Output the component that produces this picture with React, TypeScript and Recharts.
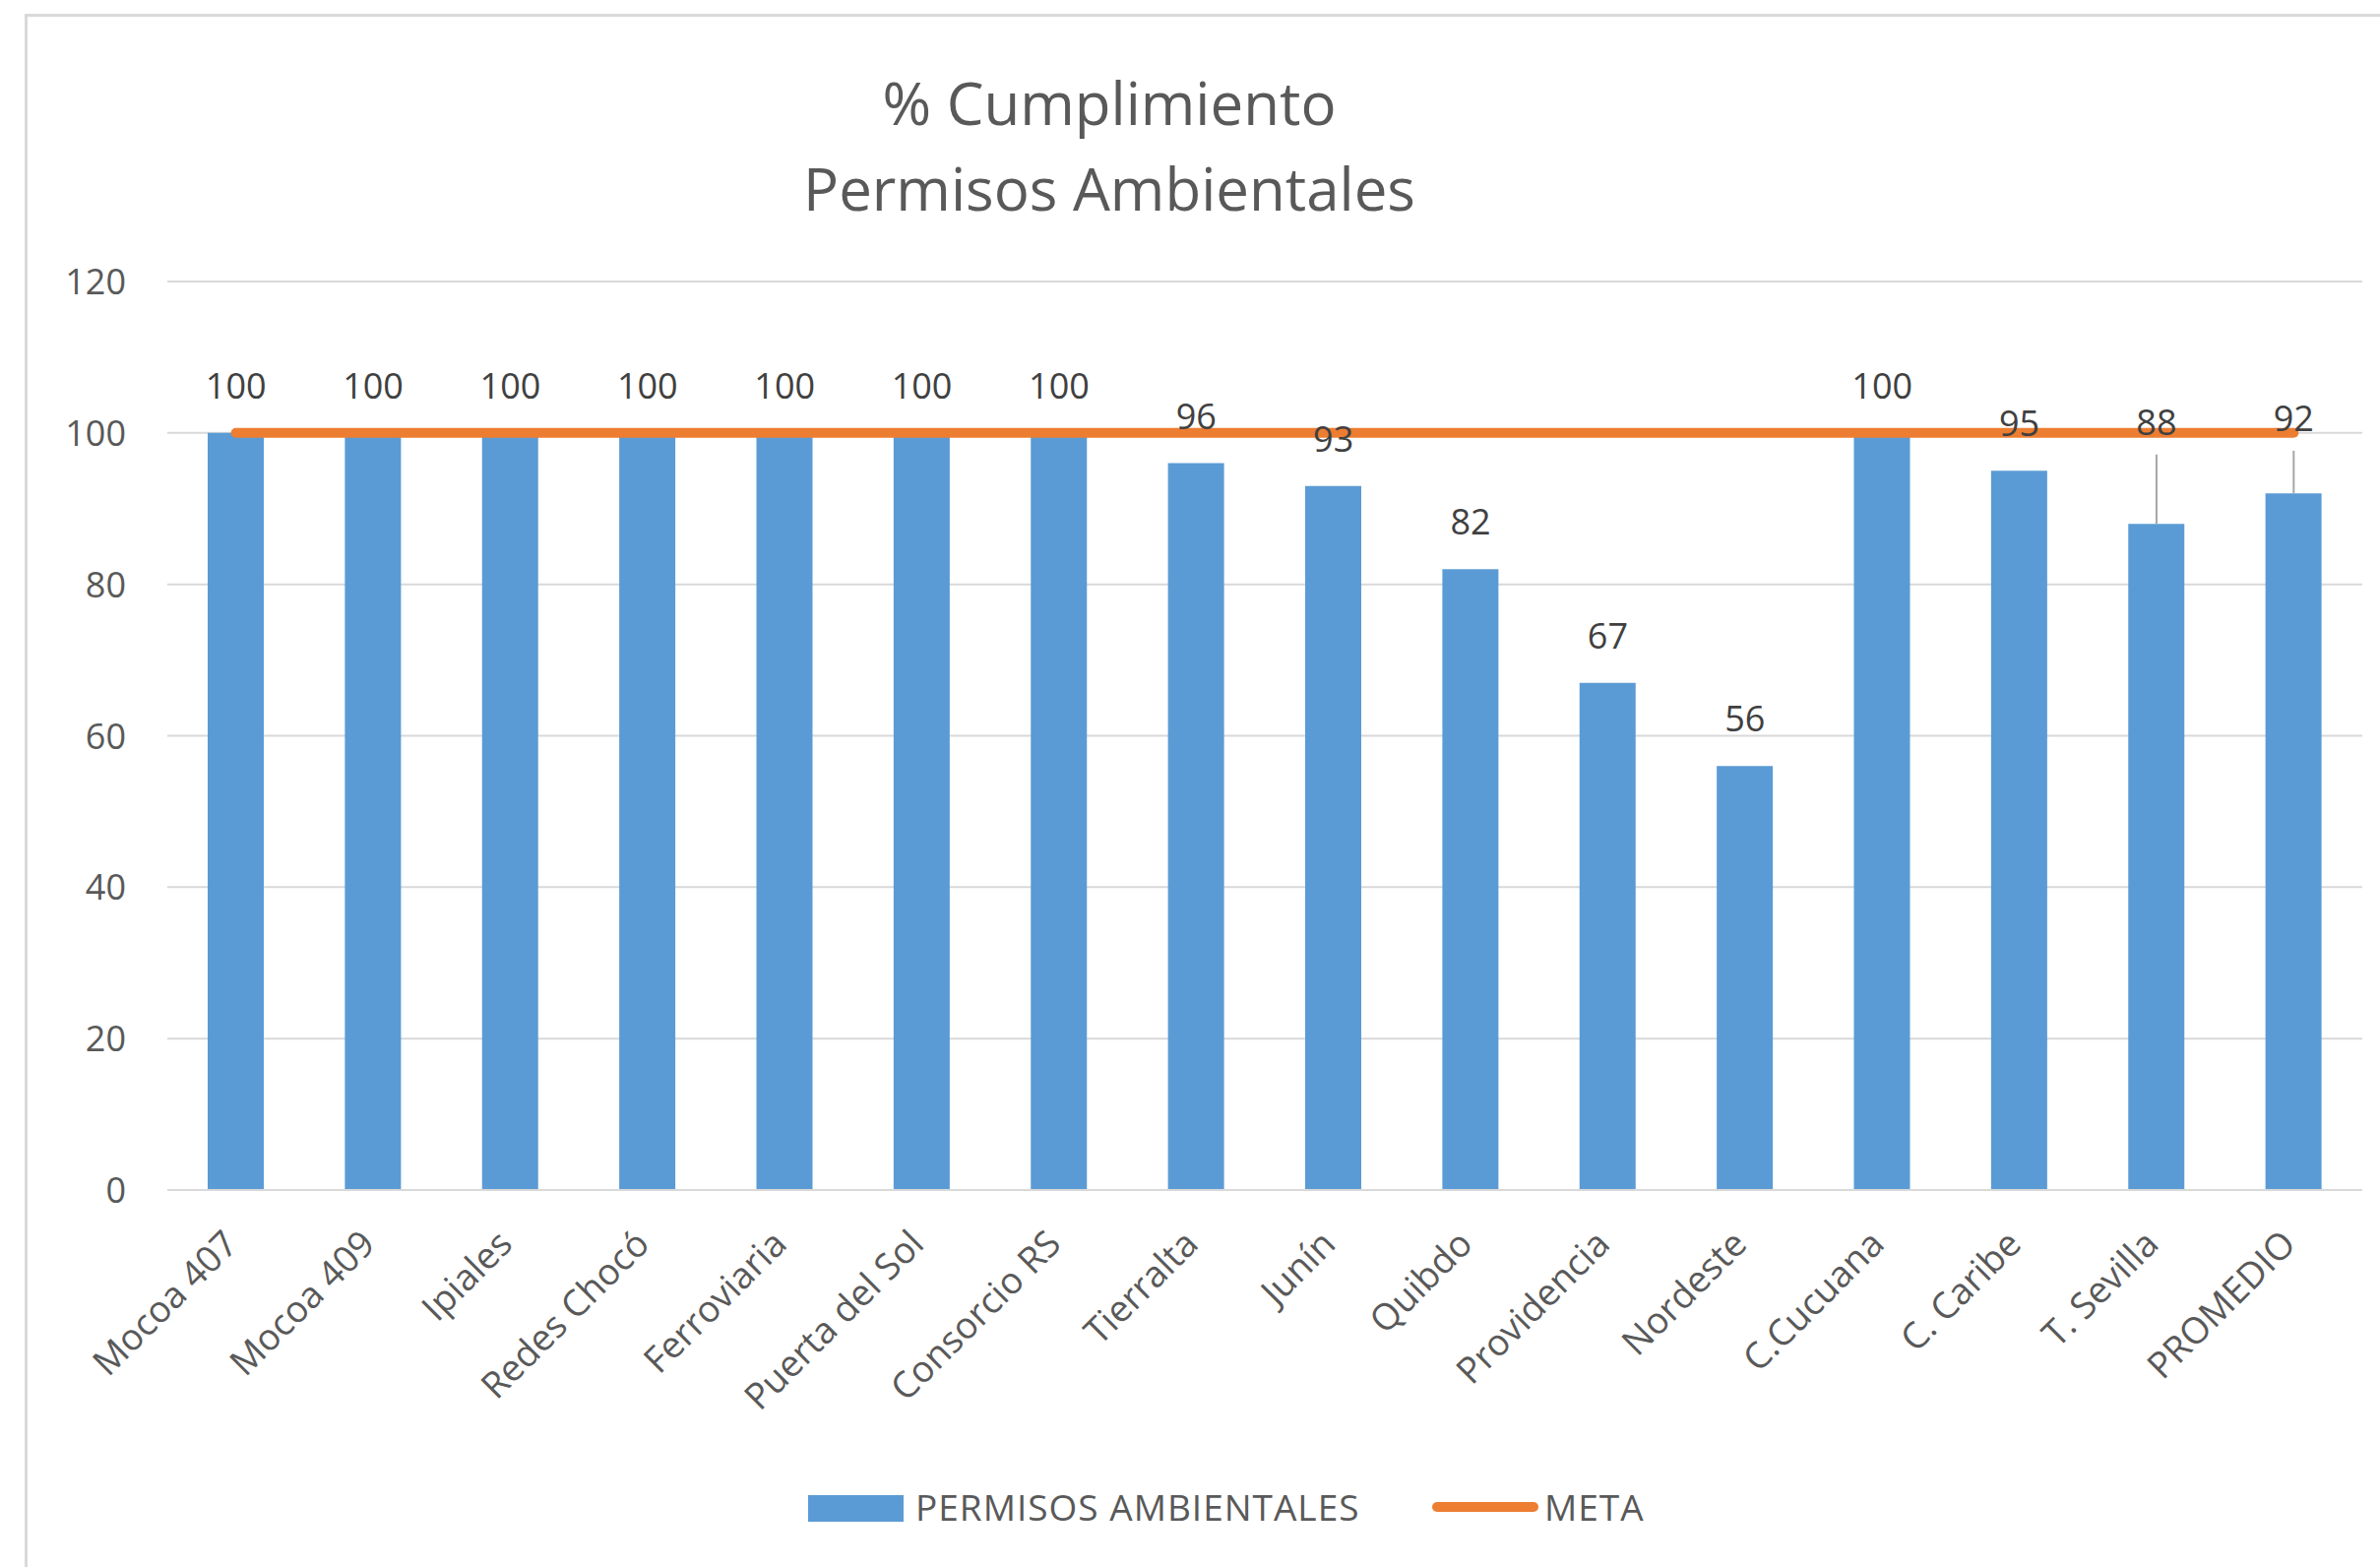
import React from 'react';
import { ComposedChart, Bar, Line, XAxis, YAxis, CartesianGrid, Legend, LabelList } from 'recharts';

const CATEGORIES = ['Mocoa 407', 'Mocoa 409', 'Ipiales', 'Redes Chocó', 'Ferroviaria', 'Puerta del Sol', 'Consorcio RS', 'Tierralta', 'Junín', 'Quibdo', 'Providencia', 'Nordeste', 'C.Cucuana', 'C. Caribe', 'T. Sevilla', 'PROMEDIO'];
const PERMISOS = [100, 100, 100, 100, 100, 100, 100, 96, 93, 82, 67, 56, 100, 95, 88, 92];
const META = [100, 100, 100, 100, 100, 100, 100, 100, 100, 100, 100, 100, 100, 100, 100, 100];
const Y_TICKS = [0, 20, 40, 60, 80, 100, 120];
const TITLE_LINES = ['% Cumplimiento', 'Permisos Ambientales'];
const SERIES_NAMES = ['PERMISOS AMBIENTALES', 'META'];

// label styling: extra lift (in value units) for labels moved above the target line
const LABEL_LIFT: Record<string, number> = { 'T. Sevilla': 7.2, 'PROMEDIO': 3.7 };

const W = 2418;
const H = 1592;
const MARGIN = { top: 286, right: 18, bottom: 0, left: 0 };
const LEGEND_H = 60;
const XAXIS_H = 323;
const PLOT_H = H - MARGIN.top - MARGIN.bottom - LEGEND_H - XAXIS_H;
const K = PLOT_H / 120;

const FONT = '"Open Sans", sans-serif';
const BLUE = '#5B9BD5';
const ORANGE = '#ED7D31';
const GRID = '#D9D9D9';
const TEXT = '#595959';

const data = CATEGORIES.map((c, i) => ({ name: c, permisos: PERMISOS[i], meta: META[i] }));

const XTick = (props: any) => {
  const { x, y, payload } = props;
  return (
    <g transform={`translate(${x + 4},${y + 57})`}>
      <text transform="rotate(-45)" textAnchor="end" fontFamily={FONT} fontSize={37} fill={TEXT}>
        {payload.value}
      </text>
    </g>
  );
};

const YTick = (props: any) => {
  const { x, y, payload } = props;
  return (
    <text x={x - 42} y={y + 13} textAnchor="end" fontFamily={FONT} fontSize={36} fill={TEXT}>
      {payload.value}
    </text>
  );
};

const ValueLabel = (props: any) => {
  const { x, y, value, index } = props;
  const cat = CATEGORIES[index];
  const lift = LABEL_LIFT[cat] ?? 0;
  const ty = y - 35 - lift * K;
  return (
    <g>
      {lift > 0 && <line x1={x} x2={x} y1={ty + 20} y2={y} stroke="#A6A6A6" strokeWidth={2} />}
      <text x={x} y={ty} textAnchor="middle" fontFamily={FONT} fontSize={36} fill="#404040">
        {value}
      </text>
    </g>
  );
};

const LegendContent = () => (
  <div style={{ position: 'relative', width: W, height: LEGEND_H, fontFamily: FONT }}>
    <div style={{ position: 'absolute', left: 821, top: 19, width: 97, height: 27, background: BLUE }} />
    <div style={{ position: 'absolute', left: 930, top: 6, fontSize: 37, lineHeight: '50px', color: TEXT, letterSpacing: 1, whiteSpace: 'nowrap' }}>
      {SERIES_NAMES[0]}
    </div>
    <div style={{ position: 'absolute', left: 1455, top: 26, width: 108, height: 10, borderRadius: 5, background: ORANGE }} />
    <div style={{ position: 'absolute', left: 1569, top: 6, fontSize: 37, lineHeight: '50px', color: TEXT, letterSpacing: 1, whiteSpace: 'nowrap' }}>
      {SERIES_NAMES[1]}
    </div>
  </div>
);

export default function App() {
  return (
    <div style={{ position: 'absolute', left: 0, top: 0, width: W, height: H, background: '#fff', overflow: 'hidden' }}>
      <div style={{ position: 'absolute', left: 25, top: 14, width: W, height: H, borderTop: `3px solid ${GRID}`, borderLeft: `3px solid ${GRID}` }} />
      <div style={{ position: 'absolute', left: 0, top: 61, width: 2254, textAlign: 'center', fontFamily: FONT, fontSize: 60, lineHeight: '87px', color: TEXT }}>
        {TITLE_LINES.map((t) => (
          <div key={t}>{t}</div>
        ))}
      </div>
      <div style={{ position: 'absolute', left: 0, top: 0 }}>
        <ComposedChart width={W} height={H} data={data} margin={MARGIN}>
          <CartesianGrid vertical={false} stroke={GRID} strokeWidth={2} />
          <XAxis
            dataKey="name"
            interval={0}
            height={XAXIS_H}
            tickLine={false}
            tickSize={0}
            tickMargin={0}
            axisLine={{ stroke: GRID, strokeWidth: 2 }}
            tick={<XTick />}
          />
          <YAxis
            width={170}
            domain={[0, 120]}
            ticks={Y_TICKS}
            axisLine={false}
            tickLine={false}
            tickSize={0}
            tickMargin={0}
            tick={<YTick />}
          />
          <Legend
            verticalAlign="bottom"
            content={<LegendContent />}
            wrapperStyle={{ position: 'absolute', left: 0, top: 1500, width: W, height: LEGEND_H }}
          />
          <Bar dataKey="permisos" name={SERIES_NAMES[0]} fill={BLUE} barSize={57} isAnimationActive={false} />
          <Line
            dataKey="meta"
            name={SERIES_NAMES[1]}
            stroke={ORANGE}
            strokeWidth={10}
            strokeLinecap="round"
            dot={false}
            activeDot={false}
            isAnimationActive={false}
          />
          <Line
            dataKey="permisos"
            stroke="none"
            dot={false}
            activeDot={false}
            legendType="none"
            isAnimationActive={false}
          >
            <LabelList dataKey="permisos" content={<ValueLabel />} />
          </Line>
        </ComposedChart>
      </div>
    </div>
  );
}
